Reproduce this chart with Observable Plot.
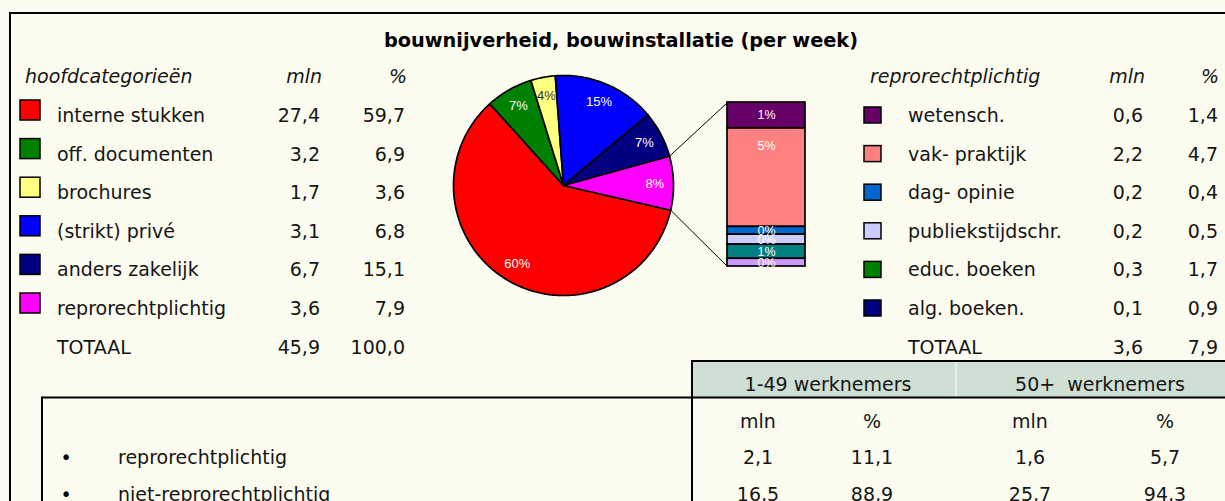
<!DOCTYPE html>
<html>
<head>
<meta charset="utf-8">
<script src="https://cdn.jsdelivr.net/npm/d3@7"></script>
<script src="https://cdn.jsdelivr.net/npm/@observablehq/plot@0.6"></script>
<style>
  body { margin: 0; background: #FCFBEF; }
  #root { position: relative; width: 1225px; height: 501px; overflow: hidden; background: #FCFBEF; }
  #pie { position: absolute; left: 430px; top: 60px; }
  #overlay { position: absolute; left: 0; top: 0; }
  #overlay text { white-space: pre; }
</style>
</head>
<body>
<div id="root"><div id="pie"></div></div>
<script>
// ---------- DATA ----------
const title = "bouwnijverheid, bouwinstallatie (per week)";

const mainCats   = ["interne stukken", "off. documenten", "brochures", "(strikt) privé", "anders zakelijk", "reprorechtplichtig"];
const mainMln    = [27.4, 3.2, 1.7, 3.1, 6.7, 3.6];
const mainPct    = [59.7, 6.9, 3.6, 6.8, 15.1, 7.9];
const mainColors = ["#FF0000", "#008000", "#FFFF80", "#0000FF", "#000080", "#FF00FF"];
const mainTotal  = {mln: 45.9, pct: 100.0};

// pie slices as drawn (clockwise)
const pieValues  = [59.7, 6.9, 3.6, 15.1, 6.8, 7.9];
const pieColors  = ["#FF0000", "#008000", "#FFFF80", "#0000FF", "#000080", "#FF00FF"];

const reproCats   = ["wetensch.", "vak- praktijk", "dag- opinie", "publiekstijdschr.", "educ. boeken", "alg. boeken."];
const reproMln    = [0.6, 2.2, 0.2, 0.2, 0.3, 0.1];
const reproPct    = [1.4, 4.7, 0.4, 0.5, 1.7, 0.9];
const reproColors = ["#660066", "#FF8080", "#0066CC", "#CCCCFF", "#008000", "#000080"];
const reproTotal  = {mln: 3.6, pct: 7.9};

// stacked bar (top to bottom), mln as drawn
const barValues = [0.57, 2.16, 0.17, 0.22, 0.31, 0.17];
const barColors = ["#660066", "#FF8080", "#0066CC", "#CCCCFF", "#008080", "#CC99FF"];

const sizeHeads = ["1-49 werknemers", "50+  werknemers"];
const sizeSub   = ["mln", "%", "mln", "%"];
const sizeRows  = ["reprorechtplichtig", "niet-reprorechtplichtig"];
const small_mln = [2.1, 16.5];
const small_pct = [11.1, 88.9];
const large_mln = [1.6, 25.7];
const large_pct = [5.7, 94.3];

// ---------- PIE + BAR (Plot) ----------
const W = 400, H = 250;
const cx = 133, cy = 125, R = 110;
const startA = 103 * Math.PI / 180;
const barLeft = 297, barRight = 375, barTop = 42, barBottom = 206;

const arcs = d3.pie().sort(null).startAngle(startA).endAngle(startA + 2 * Math.PI)(pieValues)
  .map((a, i) => ({...a, color: pieColors[i]}));

const pt = (a, r = R) => ({x: cx + r * Math.sin(a), y: cy - r * Math.cos(a)});
function slicePoly(a) {
  const n = Math.max(4, Math.ceil((a.endAngle - a.startAngle) / 0.02));
  const pts = [{x: cx, y: cy}];
  for (let k = 0; k <= n; k++) pts.push(pt(a.startAngle + (a.endAngle - a.startAngle) * k / n));
  pts.push({x: cx, y: cy});
  return pts;
}
const pieLabels = arcs.map(a => {
  const m = (a.startAngle + a.endAngle) / 2;
  const p = pt(m, R * 0.83);
  return {...p, text: Math.round(a.value) + "%", fill: a.color === "#FFFF80" ? "#333" : "#fff"};
});

const kPx = (barBottom - barTop) / d3.sum(barValues);
const cum = [0, ...d3.cumsum(barValues)];
const barSegs = barValues.map((v, i) => {
  const y1 = barTop + cum[i] * kPx, y2 = barTop + cum[i + 1] * kPx;
  return {y1, y2, color: barColors[i],
    ly: Math.min((y1 + y2) / 2, y1 + 18),
    text: Math.round(v / mainTotal.mln * 100) + "%"};
});

const last = arcs[arcs.length - 1];
const p0 = pt(last.startAngle), p1 = pt(last.endAngle);
const links = [
  {x1: p0.x, y1: p0.y, x2: barLeft, y2: barTop},
  {x1: p1.x, y1: p1.y, x2: barLeft, y2: barBottom}
];

const pie = Plot.plot({
  width: W, height: H, margin: 0,
  x: {domain: [0, W], range: [0, W], axis: null},
  y: {domain: [0, H], range: [0, H], axis: null},
  style: {background: "transparent", overflow: "visible"},
  marks: [
    ...arcs.map(a => Plot.line(slicePoly(a), {x: "x", y: "y", fill: a.color, stroke: "#000", strokeWidth: 1.7, strokeLinejoin: "round"})),
    Plot.link(links, {x1: "x1", y1: "y1", x2: "x2", y2: "y2", stroke: "#000", strokeWidth: 1}),
    Plot.rect(barSegs, {x1: barLeft, x2: barRight, y1: "y1", y2: "y2", fill: "color", stroke: "#000", strokeWidth: 1.7}),
    Plot.text(pieLabels, {x: "x", y: "y", text: "text", fill: "fill", fontSize: 13, fontFamily: "Liberation Sans"}),
    Plot.text(barSegs, {x: (barLeft + barRight) / 2, y: "ly", text: "text", fill: "#fff", fontSize: 12.5, fontFamily: "Liberation Sans"})
  ]
});
document.getElementById("pie").appendChild(pie);

// ---------- TEXT / TABLES overlay ----------
const root = d3.select("#root");
const svg = root.append("svg").attr("id", "overlay").attr("width", 1225).attr("height", 501)
  .style("font-family", "'DejaVu Sans'");
const fmt = v => d3.format(".1f")(v).replace(".", ",");
function txt(x, y, s, o = {}) {
  return svg.append("text").attr("x", x).attr("y", y).text(s)
    .attr("text-anchor", o.anchor || "start")
    .attr("font-size", o.size || 19)
    .attr("font-style", o.italic ? "italic" : null)
    .attr("font-weight", o.bold ? "bold" : null)
    .attr("fill", o.fill || "#151515");
}
function line(x1, y1, x2, y2, c = "#000", w = 2) {
  svg.append("line").attr("x1", x1).attr("y1", y1).attr("x2", x2).attr("y2", y2).attr("stroke", c).attr("stroke-width", w);
}

// bottom header band
svg.append("rect").attr("x", 692).attr("y", 361).attr("width", 540).attr("height", 36.5).attr("fill", "#D0DFD4");
line(956, 362, 956, 397, "#E6EEE8", 2);
// frame lines
line(10, 13, 1225, 13);
line(10, 12, 10, 501);
line(692, 361, 1225, 361);
line(692, 360, 692, 501);
line(42, 397.5, 1225, 397.5);
line(42, 396.5, 42, 501);

txt(621, 47, title, {anchor: "middle", bold: true, size: 19.3, fill: "#000"});

const rowY = i => 122 + 38.6 * i;
// left table
txt(25, 83, "hoofdcategorieën", {italic: true});
txt(322, 83, "mln", {italic: true, anchor: "end"});
txt(407, 83, "%", {italic: true, anchor: "end"});
mainCats.forEach((c, i) => {
  const y = rowY(i);
  svg.append("rect").attr("x", 20).attr("y", y - 22).attr("width", 20).attr("height", 20)
    .attr("fill", mainColors[i]).attr("stroke", "#000").attr("stroke-width", 1.5);
  txt(57, y, c);
  txt(320, y, fmt(mainMln[i]), {anchor: "end"});
  txt(405, y, fmt(mainPct[i]), {anchor: "end"});
});
txt(57, rowY(6), "TOTAAL");
txt(320, rowY(6), fmt(mainTotal.mln), {anchor: "end"});
txt(405, rowY(6), fmt(mainTotal.pct), {anchor: "end"});

// right table
txt(870, 83, "reprorechtplichtig", {italic: true});
txt(1145, 83, "mln", {italic: true, anchor: "end"});
txt(1219, 83, "%", {italic: true, anchor: "end"});
reproCats.forEach((c, i) => {
  const y = rowY(i);
  svg.append("rect").attr("x", 864).attr("y", y - 15).attr("width", 17).attr("height", 16)
    .attr("fill", reproColors[i]).attr("stroke", "#000").attr("stroke-width", 1.5);
  txt(908, y, c);
  txt(1143, y, fmt(reproMln[i]), {anchor: "end"});
  txt(1218, y, fmt(reproPct[i]), {anchor: "end"});
});
txt(908, rowY(6), "TOTAAL");
txt(1143, rowY(6), fmt(reproTotal.mln), {anchor: "end"});
txt(1218, rowY(6), fmt(reproTotal.pct), {anchor: "end"});

// bottom table
txt(828, 391, sizeHeads[0], {anchor: "middle"});
txt(1100, 391, sizeHeads[1], {anchor: "middle"});
const colX = [758, 872, 1030, 1165];
sizeSub.forEach((s, j) => txt(colX[j], 428, s, {anchor: "middle"}));
sizeRows.forEach((r, i) => {
  const y = 464 + 36.5 * i;
  txt(66, y, "•", {anchor: "middle", fill: "#000"});
  txt(118, y, r);
  [small_mln[i], small_pct[i], large_mln[i], large_pct[i]].forEach((v, j) =>
    txt(colX[j], y, fmt(v), {anchor: "middle"}));
});
</script>
</body>
</html>
